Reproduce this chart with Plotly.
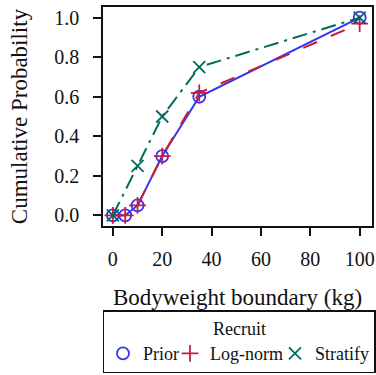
import plotly.graph_objects as go

prior_x = [0, 5, 10, 20, 35, 100]
prior_y = [0.0, 0.0, 0.05, 0.30, 0.60, 1.00]
lognorm_x = [0, 5, 10, 20, 35, 100]
lognorm_y = [0.0, 0.0, 0.05, 0.30, 0.62, 0.97]
strat_x = [0, 10, 20, 35, 100]
strat_y = [0.0, 0.25, 0.50, 0.75, 1.00]

x_ticks = [0, 20, 40, 60, 80, 100]
y_ticks = [0.0, 0.2, 0.4, 0.6, 0.8, 1.0]
y_labels = ["0.0", "0.2", "0.4", "0.6", "0.8", "1.0"]

FONT = "Liberation Serif"
INK = "#111111"
BLUE = "#3535f0"
RED = "#c41e3a"
GREEN = "#006b5e"

series = [
    ("Prior", prior_x, prior_y, BLUE, "solid", "circle-open", 22),
    ("Log-norm", lognorm_x, lognorm_y, RED, "longdash", "cross-thin-open", 60),
    ("Stratify", strat_x, strat_y, GREEN, "longdashdot", "x-thin-open", 54),
]

fig = go.Figure()
for name, xs, ys, col, dash, sym, lw in series:
    fig.add_trace(go.Scatter(
        x=xs, y=ys, mode="lines", name=name, legendgroup=name,
        showlegend=False, line=dict(color=col, width=2, dash=dash),
        hoverinfo="skip"))
for name, xs, ys, col, dash, sym, lw in series:
    fig.add_trace(go.Scatter(
        x=xs, y=ys, mode="markers", name=name, legendgroup=name,
        legendwidth=lw,
        marker=dict(symbol=sym, size=12, color=col,
                    line=dict(color=col, width=1.8))))

tick_font = dict(family=FONT, size=20, color=INK)
title_font = dict(family=FONT, size=23, color=INK)
legend_font = dict(family=FONT, size=18, color=INK)

fig.update_layout(
    width=376, height=375,
    margin=dict(l=103, r=2, t=7, b=141),
    paper_bgcolor="white", plot_bgcolor="white",
    font=dict(family=FONT, size=20, color=INK),
    xaxis=dict(range=[-4, 105], tickvals=x_ticks, ticks="outside",
               ticklen=8, tickwidth=1.5, tickcolor=INK,
               showline=True, linecolor=INK, linewidth=1.5, mirror=True,
               showgrid=False, zeroline=False, ticklabelstandoff=6,
               tickfont=tick_font,
               title=dict(text="Bodyweight boundary (kg)", font=title_font, standoff=20)),
    yaxis=dict(range=[-0.054, 1.054], tickvals=y_ticks, ticktext=y_labels,
               ticks="outside", ticklen=8, tickwidth=1.5, tickcolor=INK,
               showline=True, linecolor=INK, linewidth=1.5, mirror=True,
               showgrid=False, zeroline=False, ticklabelstandoff=10,
               tickfont=tick_font,
               title=dict(text="Cumulative Probability", font=title_font, standoff=20)),
    legend=dict(orientation="h", x=-0.0001, xanchor="left", y=-0.385, yanchor="top",
                bordercolor=INK, borderwidth=1.5, bgcolor="white",
                font=legend_font, itemwidth=30,
                title=dict(text="Recruit", side="top center", font=legend_font),
                tracegroupgap=0),
)

fig.write_html("out.html")
